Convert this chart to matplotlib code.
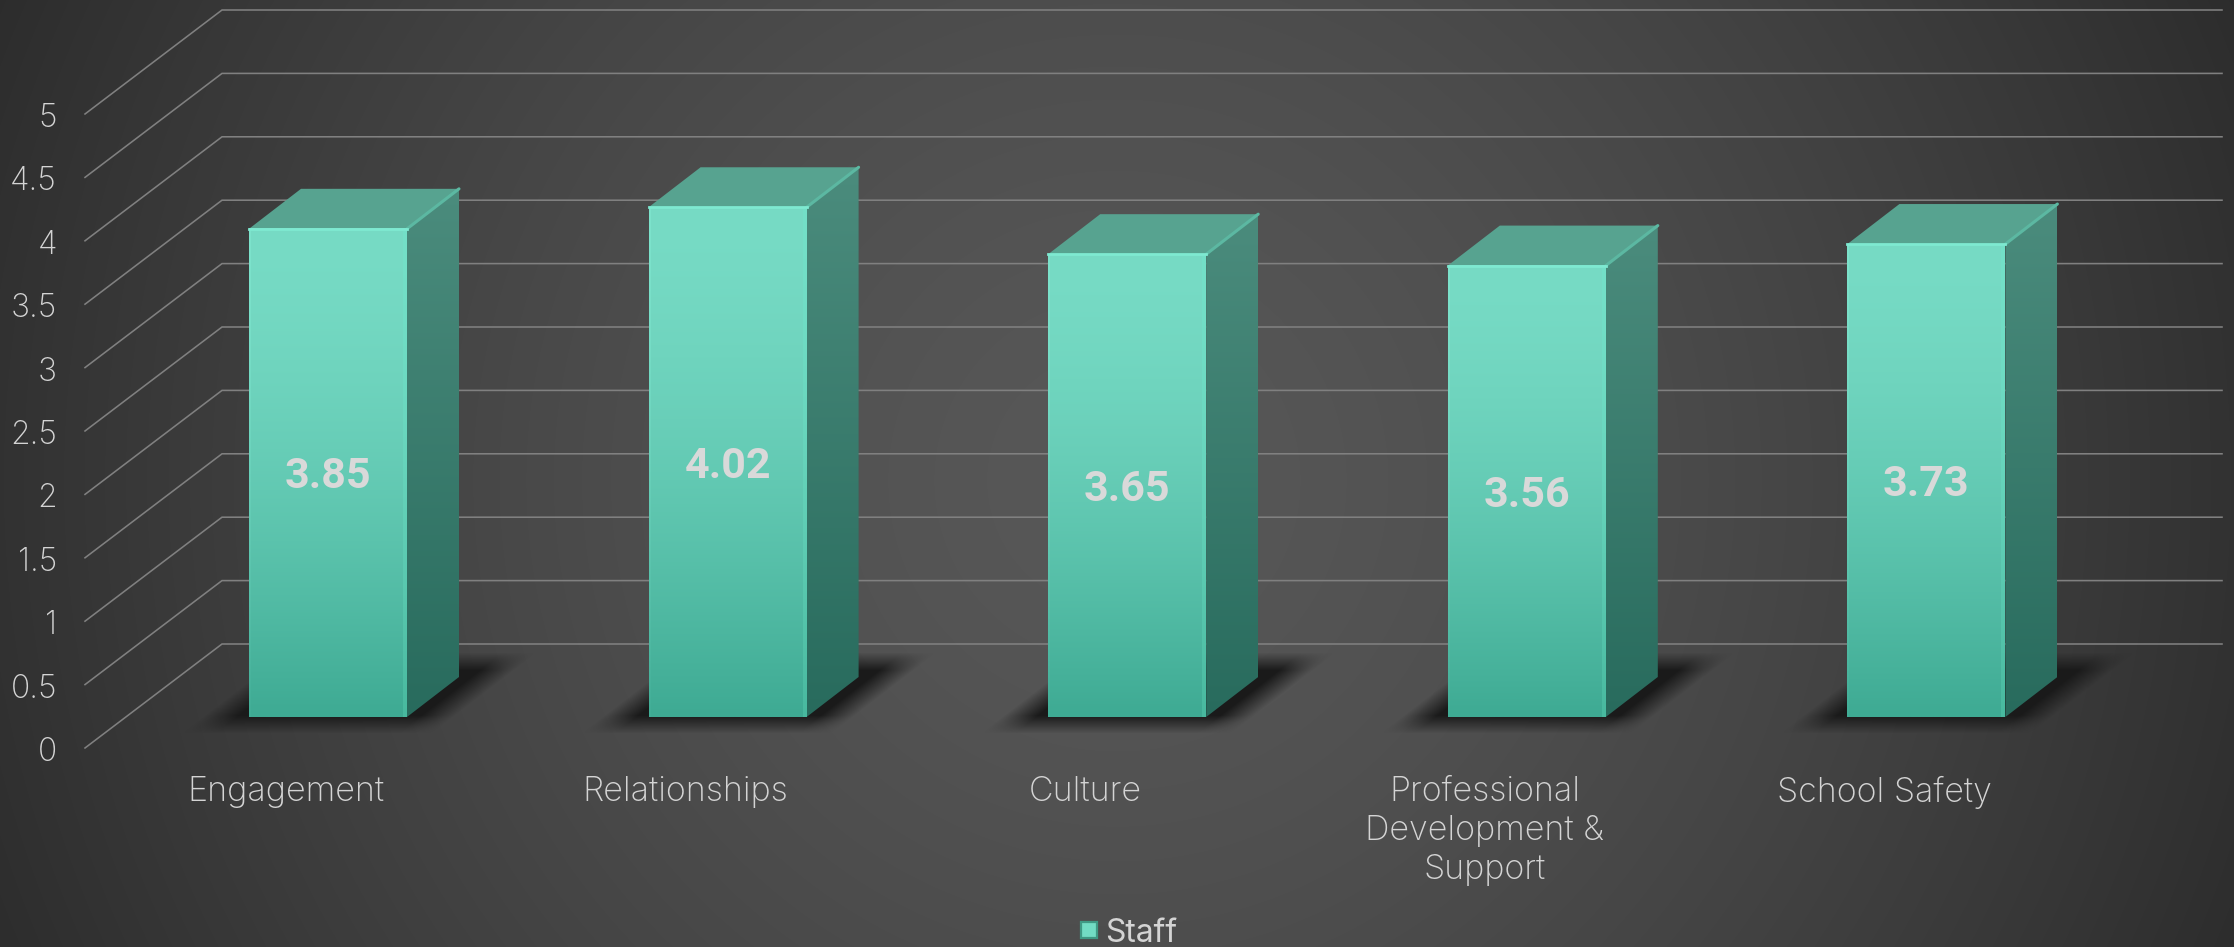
import numpy as np
import matplotlib
matplotlib.use('Agg')
import matplotlib.pyplot as plt
from matplotlib.lines import Line2D
from matplotlib.patches import Polygon

categories = ['Engagement', 'Relationships', 'Culture',
              'Professional\nDevelopment &\nSupport', 'School Safety']
values = [3.85, 4.02, 3.65, 3.56, 3.73]
axis_ticks = [0, 0.5, 1, 1.5, 2, 2.5, 3, 3.5, 4, 4.5, 5]
axis_labels = ['0', '0.5', '1', '1.5', '2', '2.5', '3', '3.5', '4', '4.5', '5']
series_name = 'Staff'

W, H = 2234, 947
PX_X = 399.6   # pixels per category
PX_Y = 126.8   # pixels per unit of value
X0 = 328.0     # centre of first bar
Y0 = 717.0     # foot of the bars

plt.rcParams['font.family'] = ['Inter', 'DejaVu Sans']
TEXT = '#d4d4d4'

def xd(px):
    return (px - X0) / PX_X

def yd(px):
    return (Y0 - px) / PX_Y

fig = plt.figure(figsize=(W / 100, H / 100), dpi=100)
ax = fig.add_axes([0, 0, 1, 1])
ax.set_xlim(xd(0), xd(W))
ax.set_ylim(yd(H), yd(0))
ax.axis('off')
extent = [xd(0), xd(W), yd(H), yd(0)]

# radial backdrop, the 8 bit steps give the banding
yy, xx = np.mgrid[0:H, 0:W]
r = np.hypot(xx - 1117, yy - 480) / 1220
grey = np.round(0x57 - 43 * r ** 1.5).astype(np.uint8)
ax.imshow(np.dstack([grey] * 3), extent=extent, aspect='auto', zorder=0,
          interpolation='nearest')

# gridlines: front wall edge, then back wall
grid_color = '#808080'
front_off = yd(748)
back_off = yd(644)
for v in axis_ticks:
    ax.plot([xd(85), xd(222), xd(2222)],
            [v + front_off, v + back_off, v + back_off],
            color=grid_color, lw=1.15, zorder=1, solid_joinstyle='miter')

for v, lab in zip(axis_ticks, axis_labels):
    ax.text(xd(57), v + front_off - 13 / PX_Y, lab, ha='right', va='baseline',
            fontsize=23, color=TEXT, fontweight='light', zorder=5)


def soft(t, a, b, w):
    return np.clip((t - a) / w, 0, 1) * np.clip((b - t) / w, 0, 1)


def vgrad(top, bottom, power=1.0, n=256):
    c1 = np.array(matplotlib.colors.to_rgb(top))
    c2 = np.array(matplotlib.colors.to_rgb(bottom))
    t = np.linspace(0, 1, n)[:, None] ** power
    return (c1 * (1 - t) + c2 * t)[:, None, :]


bar_w = 158 / PX_X
dep_x = 52 / PX_X
dep_y = 40 / PX_Y

for i, (cat, val) in enumerate(zip(categories, values)):
    left = i - bar_w / 2
    right = i + bar_w / 2

    # floor shadow
    px_l = X0 + left * PX_X
    px_r = X0 + right * PX_X
    sy, sx = np.mgrid[640:745, int(px_l) - 80:int(px_r) + 140]
    u = sx + (sy - 727) * 1.3
    a = soft(u, px_l - 60, px_r + 32, 34) * soft(sy, 652, 733, 18)
    rgba = np.zeros(a.shape + (4,))
    rgba[..., :3] = 0.105
    rgba[..., 3] = a
    ax.imshow(rgba, extent=[xd(sx[0, 0]), xd(sx[0, -1] + 1), yd(745), yd(640)],
              aspect='auto', zorder=2, interpolation='bilinear')

    # side face
    side = Polygon([(right, 0), (right + dep_x, dep_y),
                    (right + dep_x, val + dep_y), (right, val)],
                   closed=True, transform=ax.transData)
    im = ax.imshow(vgrad('#4b8c7d', '#286b5d'),
                   extent=[right, right + dep_x, 0, val + dep_y],
                   aspect='auto', zorder=3)
    im.set_clip_path(side)

    # top face
    ax.add_patch(Polygon([(left, val), (left + dep_x, val + dep_y),
                          (right + dep_x, val + dep_y), (right, val)],
                         closed=True, fc='#57a390', ec='none', zorder=3))
    ax.plot([right, right + dep_x], [val, val + dep_y], color='#5cb8a2',
            lw=2.2, zorder=3.2, solid_capstyle='round')

    # front face
    ax.imshow(vgrad('#77dbc5', '#3eaa93', 1.6), extent=[left, right, 0, val],
              aspect='auto', zorder=4)
    ax.imshow(vgrad('#74e0c8', '#48b99f', 1.6),
              extent=[right - 4 / PX_X, right, 0, val], aspect='auto', zorder=4.1)
    ax.imshow(vgrad('#7de3cc', '#41ad96', 1.6),
              extent=[left, left + 2 / PX_X, 0, val], aspect='auto', zorder=4.1)
    ax.plot([left, right], [val, val], color='#7ee9d1', lw=2.0, zorder=4.2)

    # value label
    ax.text(i, val / 2 - 4 / PX_Y, f'{val:.2f}', ha='center', va='center',
            fontsize=31, fontweight='bold', family=['Roboto', 'DejaVu Sans'],
            color='#d9d9d9', zorder=6)

    # category label
    ax.text(i - 42 / PX_X, yd(776), cat, ha='center', va='top', fontsize=24.5,
            fontweight='light', color=TEXT, linespacing=1.27, zorder=5)

ax.set_xlim(xd(0), xd(W))
ax.set_ylim(yd(H), yd(0))

handle = Line2D([], [], ls='none', marker='s', ms=11.5, mfc='#72dcc4',
                mec='#3f9984', mew=1.6)
ax.legend(handles=[handle], labels=[series_name], frameon=False, fontsize=23,
          labelcolor=TEXT, loc='lower center', bbox_to_anchor=(0.5, -0.032),
          handletextpad=-0.5)

fig.savefig('out.png', dpi=100)
